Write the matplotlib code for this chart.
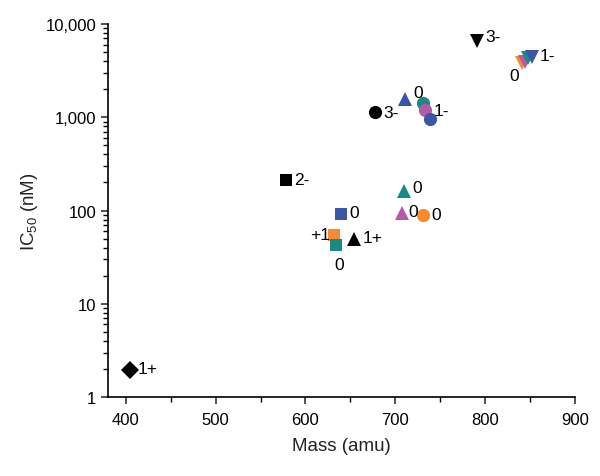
import numpy as np
import matplotlib.pyplot as plt
from matplotlib.ticker import FuncFormatter, LogLocator, MultipleLocator, NullFormatter

plt.rcParams['font.family'] = ['Liberation Sans', 'DejaVu Sans']

# data
mass = [404, 578, 640, 632, 634, 654, 710, 707, 731,
        677, 711, 731, 733, 739, 791, 841, 844, 848, 852]
ic50 = [1.95, 210, 91, 54, 43, 50, 160, 95, 90,
        1130, 1560, 1420, 1190, 950, 6600, 3800, 3950, 4350, 4400]
charge = ['1+', '2-', '0', '+1', '0', '1+', '0', '0', '0',
          '3-', '0', '', '1-', '', '3-', '0', '', '', '1-']

# styles
blue = '#3c55a5'
teal = '#1b8985'
mag = '#b35aa8'
orng = '#f58a2e'
blk = '#000000'
markers = ['D', 's', 's', 's', 's', '^', '^', '^', 'o',
           'o', '^', 'o', 'o', 'o', 'v', 'v', 'v', 'v', 'v']
colors = [blk, blk, blue, orng, teal, blk, teal, mag, orng,
          blk, blue, teal, mag, blue, blk, orng, mag, teal, blue]
msize = [9, 8.5, 8.5, 8.5, 9, 9.5, 10, 10, 9.5,
         9.5, 10, 9.5, 9.5, 9.5, 10, 10, 10, 10, 10]
# label offsets in points
offs = [(6, 1), (6, 1), (6, 1), (-17, 1), (-1, -14), (6, 1), (6, 3), (5, 1), (6, 0),
        (6, 0), (6, 5), (0, 0), (6, 0), (0, 0), (6, 3), (-9, -9), (0, 0), (0, 0), (6, 1)]

fig = plt.figure(figsize=(6, 4.77), dpi=100)
ax = fig.add_axes([0.18, 0.1656, 0.778, 0.782])

for i in range(len(mass)):
    ax.plot(mass[i], ic50[i], marker=markers[i], color=colors[i],
            markersize=msize[i], linestyle='none', markeredgewidth=0)
    if charge[i]:
        ax.annotate(charge[i], (mass[i], ic50[i]), xytext=offs[i],
                    textcoords='offset points', fontsize=12.5,
                    va='center', ha='left')

ax.set_yscale('log')
ax.set_xlim(380, 900)
ax.set_ylim(1, 10000)
ax.xaxis.set_major_locator(MultipleLocator(100))
ax.xaxis.set_minor_locator(MultipleLocator(50))
ax.yaxis.set_major_locator(LogLocator(base=10, numticks=20))
ax.yaxis.set_minor_locator(LogLocator(base=10, subs=np.arange(2, 10), numticks=100))
ax.yaxis.set_major_formatter(FuncFormatter(lambda v, p: '{:,.0f}'.format(v)))
ax.yaxis.set_minor_formatter(NullFormatter())

for s in ['top', 'right']:
    ax.spines[s].set_visible(False)
for s in ['left', 'bottom']:
    ax.spines[s].set_linewidth(1.2)
ax.tick_params(which='major', length=5, width=1.1, labelsize=12, color='#222222')
ax.tick_params(which='minor', length=3.5, width=1)
ax.tick_params(axis='x', pad=6)

ax.set_xlabel('Mass (amu)', fontsize=13.5, color='#222222', labelpad=7)
ax.set_ylabel('IC$_{\\mathregular{50}}$ (nM)', fontsize=13.5, color='#222222', labelpad=4)

fig.savefig('out.png', dpi=100)
